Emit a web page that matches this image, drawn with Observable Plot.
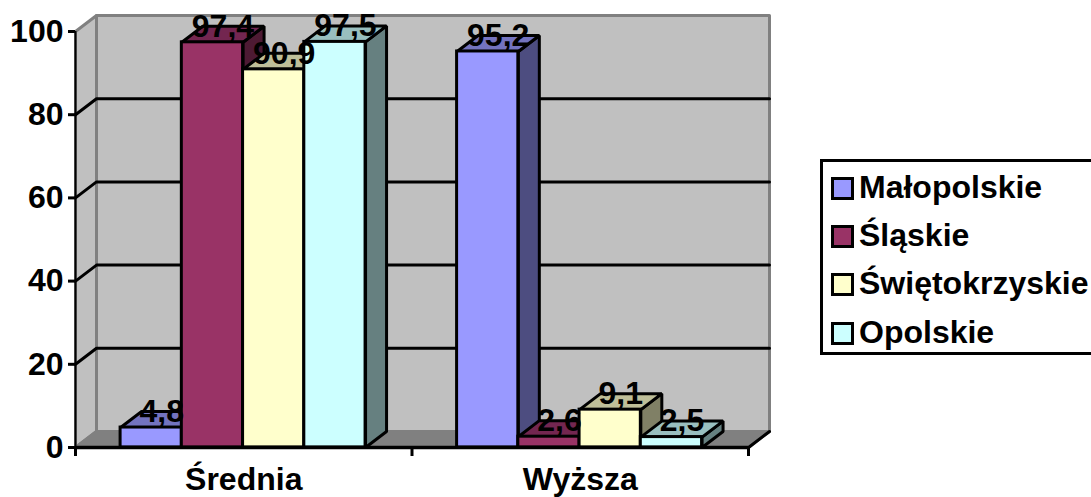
<!DOCTYPE html>
<html lang="pl">
<head>
<meta charset="utf-8">
<script src="https://cdn.jsdelivr.net/npm/d3@7"></script>
<script src="https://cdn.jsdelivr.net/npm/@observablehq/plot@0.6"></script>
<style>
html,body{margin:0;padding:0;background:#fff;overflow:hidden}
#chart{position:relative;width:1091px;height:497px;font-family:"Liberation Sans",Arial,sans-serif}
#chart svg{display:block;font-family:"Liberation Sans",Arial,sans-serif}
#legend{position:absolute;left:820px;top:159px;width:280px;height:190px;border:3px solid #000;box-sizing:content-box;background:#fff;color:#000;font-weight:700;font-size:32px}
#legend div{position:absolute;left:36px;line-height:34px;white-space:nowrap}
#legend i{position:absolute;left:-28px;top:7px;width:17px;height:17px;border:3px solid #000;display:block}
</style>
</head>
<body>
<div id="chart"><div id="legend"></div></div>
<script>
const categories = ["Średnia", "Wyższa"];
const series = ["Małopolskie", "Śląskie", "Świętokrzyskie", "Opolskie"];
const colors = ["#9999FF", "#993366", "#FFFFCC", "#CCFFFF"];
const topColors = ["#7373BF", "#732650", "#BFBF99", "#99BFBF"];
const sideColors = ["#4D4D80", "#4D1A33", "#808066", "#668080"];
const malopolskie = [4.8, 95.2];
const slaskie = [97.4, 2.6];
const swietokrzyskie = [90.9, 9.1];
const opolskie = [97.5, 2.5];
const seriesValues = [malopolskie, slaskie, swietokrzyskie, opolskie];
const yTicks = [0, 20, 40, 60, 80, 100];
const innerGrid = [20, 40, 60, 80];

// 3-D look, in data units of the x (category) and y (percent) scales
const depthX = 0.0624, depthY = 3.85;
const groupGap = 0.134, barWidth = 0.182;
const font = {fontFamily: "Liberation Sans, Arial, sans-serif", fontWeight: 700, fontSize: 32, fill: "#000"};

const poly = (id, color, pts) => pts.map(([x, y]) => ({id, color, x, y}));
const closed = (data, opts) => Plot.line(data, {x: "x", y: "y", z: "id", fill: "color", curve: "linear-closed", ...opts});

const walls = [
  ...poly("back", "#C0C0C0", [[depthX, depthY], [2 + depthX, depthY], [2 + depthX, 100 + depthY], [depthX, 100 + depthY]]),
  ...poly("left", "#C0C0C0", [[0, 0], [depthX, depthY], [depthX, 100 + depthY], [0, 100]]),
  ...poly("floor", "#808080", [[0, 0], [2, 0], [2 + depthX, depthY], [depthX, depthY]])
];
const gridLines = innerGrid.flatMap(v => [
  {id: v, x: 0, y: v},
  {id: v, x: depthX, y: v + depthY},
  {id: v, x: 2 + depthX, y: v + depthY}
]);

const bars = categories.flatMap((c, ci) => series.map((s, si) => {
  const x1 = ci + groupGap + si * barWidth, x2 = x1 + barWidth, v = seriesValues[si][ci];
  return {c, s, si, x1, x2, v, label: String(v).replace(".", ",")};
}));

const barMarks = bars.map(b => [
  closed([
    ...poly("side", sideColors[b.si], [[b.x2, 0], [b.x2 + depthX, depthY], [b.x2 + depthX, b.v + depthY], [b.x2, b.v]]),
    ...poly("top", topColors[b.si], [[b.x1, b.v], [b.x2, b.v], [b.x2 + depthX, b.v + depthY], [b.x1 + depthX, b.v + depthY]])
  ], {stroke: "#000", strokeWidth: 3, strokeLinejoin: "miter"}),
  Plot.rect([b], {x1: "x1", x2: "x2", y1: 0, y2: "v", fill: colors[b.si], stroke: "#000", strokeWidth: 3})
]);

const plot = Plot.plot({
  width: 1091, height: 497,
  marginLeft: 75, marginRight: 343, marginTop: 31, marginBottom: 50,
  style: {background: "transparent", overflow: "visible"},
  x: {type: "linear", domain: [0, 2], axis: null},
  y: {domain: [0, 100], axis: null},
  color: {type: "identity"},
  marks: [
    closed(walls, {stroke: "#808080", strokeWidth: 3}),
    Plot.line(gridLines, {x: "x", y: "y", z: "id", stroke: "#000", strokeWidth: 3}),
    Plot.ruleX([0], {y1: 0, y2: 100, stroke: "#000", strokeWidth: 2}),
    Plot.line([{x: 2, y: 0}, {x: 2 + depthX, y: depthY}], {x: "x", y: "y", stroke: "#000", strokeWidth: 3}),
    Plot.axisY({ticks: yTicks, tickSize: 7, tickPadding: 5, strokeWidth: 3, ...font, label: null}),
    Plot.axisX({ticks: [0, 1, 2], tickSize: 9, strokeWidth: 3, tickFormat: () => "", label: null}),
    Plot.axisX({ticks: [0.5, 1.5], tickSize: 0, tickPadding: 20, tickFormat: d => categories[Math.floor(d)], ...font, label: null}),
    barMarks,
    Plot.ruleY([0], {x1: 0, x2: 2, stroke: "#000", strokeWidth: 3.5}),
    Plot.text(bars, {
      x: d => (d.x1 + d.x2 + depthX) / 2,
      y: d => d.v + depthY,
      text: "label", textAnchor: "middle", lineAnchor: "middle", ...font
    })
  ]
});
const chart = document.getElementById("chart");
chart.insertBefore(plot, chart.firstChild);

const legend = document.getElementById("legend");
series.forEach((s, i) => {
  const row = document.createElement("div");
  row.style.top = (8 + i * 48.2) + "px";
  row.textContent = s;
  const sw = document.createElement("i");
  sw.style.background = colors[i];
  row.appendChild(sw);
  legend.appendChild(row);
});
</script>
</body>
</html>
